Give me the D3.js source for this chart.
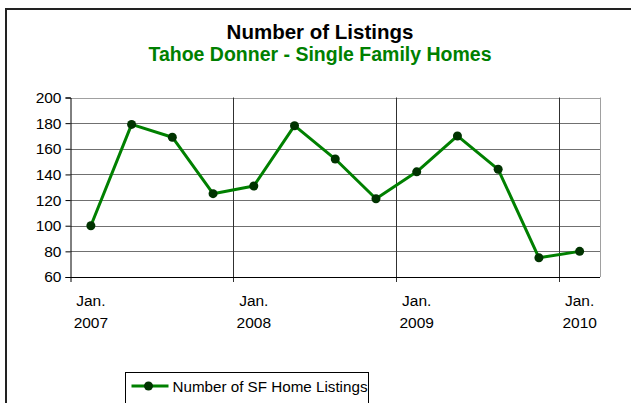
<!DOCTYPE html>
<html>
<head>
<meta charset="utf-8">
<script src="https://cdn.jsdelivr.net/npm/d3@7"></script>
<style>
  body { margin: 0; background: #fff; }
  text { font-family: Arial, "Liberation Sans", sans-serif; }
</style>
</head>
<body>
<div id="container"></div>
<script>
/* DATA */
const quarters = ["Jan. 2007", "Apr. 2007", "Jul. 2007", "Oct. 2007",
  "Jan. 2008", "Apr. 2008", "Jul. 2008", "Oct. 2008",
  "Jan. 2009", "Apr. 2009", "Jul. 2009", "Oct. 2009",
  "Jan. 2010"];
const listings = [100, 179, 169, 125, 131, 178, 152, 121, 142, 170, 144, 75, 80];
const yTicks = [60, 80, 100, 120, 140, 160, 180, 200];
const seriesName = "Number of SF Home Listings";

/* CONSTANTS */
const width = 631, height = 403;
const plot = { left: 70.5, right: 600, top: 97.5, bottom: 277 };
const green = "#008000", dot = "#003300";
const tickFont = 15.5;

const svg = d3.select("#container").append("svg")
  .attr("width", width)
  .attr("height", height);

// outer chart border (cut off on right and bottom)
svg.append("path")
  .attr("d", `M6,${height + 5}V9H${width + 5}`)
  .attr("fill", "none")
  .attr("stroke", "#222")
  .attr("stroke-width", 2);

/* SCALES */
const xScale = d3.scaleBand()
  .domain(quarters)
  .range([plot.left, plot.right])
  .padding(0);

const yScale = d3.scaleLinear()
  .domain([60, 200])
  .range([plot.bottom, plot.top]);

const xMid = d => xScale(d) + xScale.bandwidth() / 2;

// titles
svg.append("text")
  .attr("x", 320).attr("y", 39)
  .attr("text-anchor", "middle")
  .attr("font-size", 20.5).attr("font-weight", "bold")
  .text("Number of Listings");

svg.append("text")
  .attr("x", 320).attr("y", 61)
  .attr("text-anchor", "middle")
  .attr("font-size", 19.5).attr("font-weight", "bold")
  .attr("fill", green)
  .text("Tahoe Donner - Single Family Homes");

// horizontal gridlines
svg.append("g")
  .selectAll("line")
  .data(yTicks.slice(1))
  .join("line")
  .attr("x1", plot.left).attr("x2", plot.right)
  .attr("y1", d => Math.round(yScale(d)) + 0.5)
  .attr("y2", d => Math.round(yScale(d)) + 0.5)
  .attr("stroke", d => d === 200 ? "#a0a0a0" : "#707070");

// right border of plot
svg.append("line")
  .attr("x1", plot.right + 0.5).attr("x2", plot.right + 0.5)
  .attr("y1", plot.top).attr("y2", plot.bottom)
  .attr("stroke", "#a0a0a0");

// vertical gridlines at year boundaries
const yearStarts = quarters.filter((d, i) => i > 0 && i % 4 === 0);
svg.append("g")
  .selectAll("line")
  .data(yearStarts)
  .join("line")
  .attr("x1", d => Math.round(xScale(d)) + 0.5)
  .attr("x2", d => Math.round(xScale(d)) + 0.5)
  .attr("y1", plot.top).attr("y2", plot.bottom + 5)
  .attr("stroke", "#303030");

/* AXES */
const yAxis = d3.axisLeft(yScale)
  .tickValues(yTicks)
  .tickSize(5)
  .tickPadding(4);
const yG = svg.append("g")
  .attr("transform", `translate(${plot.left}, 0)`)
  .call(yAxis);
yG.select(".domain").attr("stroke", "#000");
yG.selectAll(".tick text")
  .attr("font-size", tickFont)
  .attr("font-family", "Arial, 'Liberation Sans', sans-serif")
  .attr("fill", "#000");

// x axis line
svg.append("line")
  .attr("x1", plot.left).attr("x2", plot.right)
  .attr("y1", plot.bottom + 0.5).attr("y2", plot.bottom + 0.5)
  .attr("stroke", "#000");
svg.append("line")
  .attr("x1", plot.left + 0.5).attr("x2", plot.left + 0.5)
  .attr("y1", plot.bottom).attr("y2", plot.bottom + 5)
  .attr("stroke", "#000");

// x labels (only January)
const janLabels = svg.append("g")
  .selectAll("text")
  .data(quarters.filter(d => d.startsWith("Jan.")))
  .join("text")
  .attr("text-anchor", "middle")
  .attr("font-size", tickFont)
  .attr("transform", d => `translate(${xMid(d)}, 0)`);
janLabels.append("tspan").attr("x", 0).attr("y", 306).text(d => d.split(" ")[0]);
janLabels.append("tspan").attr("x", 0).attr("y", 328).text(d => d.split(" ")[1]);

/* SERIES */
const line = d3.line()
  .x((d, i) => xMid(quarters[i]))
  .y(d => yScale(d));

svg.append("path")
  .datum(listings)
  .attr("d", line)
  .attr("fill", "none")
  .attr("stroke", green)
  .attr("stroke-width", 3)
  .attr("stroke-linejoin", "round");

svg.append("g")
  .selectAll("circle")
  .data(listings)
  .join("circle")
  .attr("cx", (d, i) => xMid(quarters[i]))
  .attr("cy", d => yScale(d))
  .attr("r", 4.5)
  .attr("fill", dot);

/* LEGEND */
const legend = svg.append("g").attr("transform", "translate(125.5, 372.5)");
legend.append("rect")
  .attr("width", 243).attr("height", 32)
  .attr("fill", "#fff").attr("stroke", "#000");
legend.append("line")
  .attr("x1", 6).attr("x2", 43).attr("y1", 13.5).attr("y2", 13.5)
  .attr("stroke", green).attr("stroke-width", 3);
legend.append("circle")
  .attr("cx", 23).attr("cy", 13.5).attr("r", 4.5).attr("fill", dot);
legend.append("text")
  .attr("x", 47).attr("y", 19)
  .attr("font-size", 15.2)
  .text(seriesName);
</script>
</body>
</html>
